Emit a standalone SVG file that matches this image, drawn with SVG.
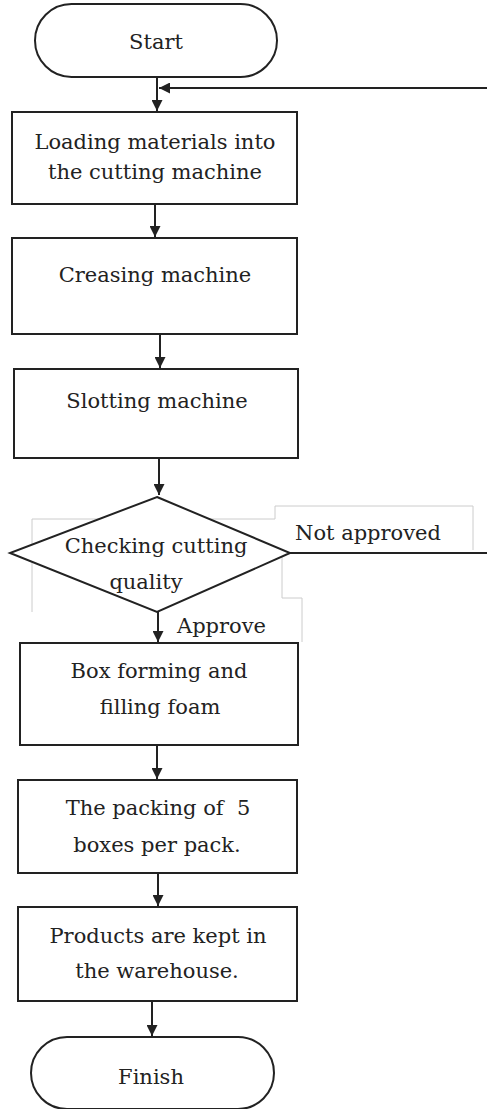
<svg xmlns="http://www.w3.org/2000/svg" width="487" height="1109" viewBox="0 0 487 1109">
<style>
.box{fill:#fff;stroke:#222;stroke-width:2}
.t{font-family:"DejaVu Serif","Liberation Serif",serif;font-size:21px;fill:#222;text-anchor:middle}
.lbl{font-family:"DejaVu Serif","Liberation Serif",serif;font-size:21px;fill:#222}
.c{fill:none;stroke:#222;stroke-width:2}
.g{fill:none;stroke:#ccc;stroke-width:1}
</style>
<defs>
<marker id="ah" viewBox="0 0 10 10" refX="10" refY="5" markerWidth="5.5" markerHeight="5.5" orient="auto" markerUnits="strokeWidth">
<path d="M0,0 L10,5 L0,10 z" fill="#222"/>
</marker>
</defs>
<rect width="487" height="1109" fill="#fff"/>
<g id="artifacts">
<path class="g" d="M32,612 V519 H275 V506 H473 V550"/>
<path class="g" d="M282,555 V598 H302 V642"/>
</g>
<g id="connectors">
<path class="c" d="M157,77 V111" marker-end="url(#ah)"/>
<path class="c" d="M490,553 V88 H159" marker-end="url(#ah)"/>
<path class="c" d="M155,204 V237" marker-end="url(#ah)"/>
<path class="c" d="M160,334 V368" marker-end="url(#ah)"/>
<path class="c" d="M159,458 V495" marker-end="url(#ah)"/>
<path class="c" d="M290,553 H490"/>
<path class="c" d="M158,612 V642" marker-end="url(#ah)"/>
<path class="c" d="M157,745 V779" marker-end="url(#ah)"/>
<path class="c" d="M158,873 V906" marker-end="url(#ah)"/>
<path class="c" d="M152,1001 V1036" marker-end="url(#ah)"/>
<text class="lbl" x="295" y="540">Not approved</text>
<text class="lbl" x="177" y="633">Approve</text>
</g>
<g id="start">
<rect class="box" x="35" y="4" width="242" height="73" rx="36.5"/>
<text class="t" x="156" y="49">Start</text>
</g>
<g id="loading">
<rect class="box" x="12" y="112" width="285" height="92"/>
<text class="t" x="155" y="149">Loading materials into</text>
<text class="t" x="155" y="179">the cutting machine</text>
</g>
<g id="creasing">
<rect class="box" x="12" y="238" width="285" height="96"/>
<text class="t" x="155" y="282">Creasing machine</text>
</g>
<g id="slotting">
<rect class="box" x="14" y="369" width="284" height="89"/>
<text class="t" x="157" y="408">Slotting machine</text>
</g>
<g id="check">
<polygon class="box" points="157,497 290,553 157,612 10,553"/>
<text class="t" x="156" y="553">Checking cutting</text>
<text class="t" x="146" y="589">quality</text>
</g>
<g id="boxforming">
<rect class="box" x="20" y="643" width="278" height="102"/>
<text class="t" x="159" y="678">Box forming and</text>
<text class="t" x="160" y="714">filling foam</text>
</g>
<g id="packing">
<rect class="box" x="18" y="780" width="279" height="93"/>
<text class="t" x="158" y="815" style="white-space:pre">The packing of  5</text>
<text class="t" x="157" y="852">boxes per pack.</text>
</g>
<g id="products">
<rect class="box" x="18" y="907" width="279" height="94"/>
<text class="t" x="158" y="943">Products are kept in</text>
<text class="t" x="157" y="978">the warehouse.</text>
</g>
<g id="finish">
<rect class="box" x="31" y="1037" width="243" height="72" rx="36"/>
<text class="t" x="151" y="1084">Finish</text>
</g>
</svg>
